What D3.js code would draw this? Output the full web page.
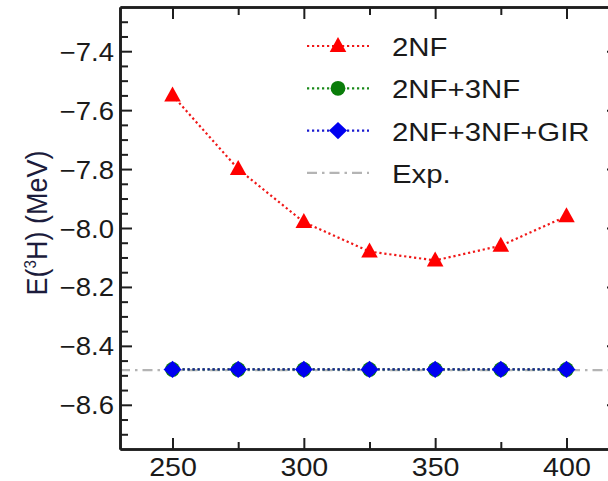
<!DOCTYPE html>
<html>
<head>
<meta charset="utf-8">
<script src="https://cdn.jsdelivr.net/npm/d3@7"></script>
<style>
  html, body { margin: 0; padding: 0; background: #fff; }
  svg { display: block; font-family: "Liberation Sans", Arial, sans-serif; }
</style>
</head>
<body>
<svg id="chart" width="608" height="481"></svg>
<script>
// cutoff values (MeV) and triton binding energies
const cutoffs = [250, 275, 300, 325, 350, 375, 400];
const e2NF = [-7.55, -7.80, -7.98, -8.08, -8.11, -8.06, -7.96];
const e2NF3NF = [-8.48, -8.48, -8.48, -8.48, -8.48, -8.48, -8.48];
const e2NF3NFGIR = [-8.48, -8.48, -8.48, -8.48, -8.48, -8.48, -8.48];
const eExp = -8.482;

const xTicks = [250, 300, 350, 400];
const xMinorTicks = [275, 325, 375];
const yTicks = [-8.6, -8.4, -8.2, -8.0, -7.8, -7.6, -7.4];
const yMinorTicks = [-8.70, -8.65, -8.55, -8.50, -8.45, -8.35, -8.30, -8.25, -8.15, -8.10, -8.05,
                     -7.95, -7.90, -7.85, -7.75, -7.70, -7.65, -7.55, -7.50, -7.45, -7.35, -7.30];

const legendLabels = ["2NF", "2NF+3NF", "2NF+3NF+GIR", "Exp."];

const svg = d3.select("#chart");
const W = 608;
const L = 120, R = 619, T = 7, B = 449;

const x = d3.scaleLinear().domain([230, 420]).range([L, R]);
const y = d3.scaleLinear().domain([-8.75, -7.25]).range([B, T]);

const axisColor = "#1e1e1e";
const textStretch = "scale(1.1,1)";

// experimental value: gray dash-dot line across the frame
svg.append("line")
  .attr("x1", L).attr("x2", W + 20)
  .attr("y1", y(eExp)).attr("y2", y(eExp))
  .attr("stroke", "#b4b4b4").attr("stroke-width", 2.2)
  .attr("stroke-dasharray", "10,5,2.5,5");

const lineGen = d3.line().x((d, i) => x(cutoffs[i])).y(d => y(d));

// series styles
const series = [
  { vals: e2NF, color: "#ff0000", lineColor: "#f01818", marker: "triangle" },
  { vals: e2NF3NF, color: "#0a7d0a", lineColor: "#1a8a1a", marker: "circle" },
  { vals: e2NF3NFGIR, color: "#0000f0", lineColor: "#1a1aa0", marker: "diamond" }
];

function drawMarker(g, type, cx, cy, color) {
  if (type === "triangle") {
    g.append("path")
      .attr("d", `M${cx},${cy - 9} L${cx + 8.3},${cy + 6} L${cx - 8.3},${cy + 6} Z`)
      .attr("fill", color);
  } else if (type === "circle") {
    g.append("circle").attr("cx", cx).attr("cy", cy).attr("r", 7.4).attr("fill", color);
  } else {
    g.append("path")
      .attr("d", `M${cx},${cy - 8.6} L${cx + 9},${cy} L${cx},${cy + 8.6} L${cx - 9},${cy} Z`)
      .attr("fill", color);
  }
}

series.forEach(s => {
  svg.append("path")
    .attr("d", lineGen(s.vals))
    .attr("fill", "none")
    .attr("stroke", s.lineColor)
    .attr("stroke-width", 2.2)
    .attr("stroke-dasharray", "2.2,2.8");
  const g = svg.append("g");
  s.vals.forEach((v, i) => drawMarker(g, s.marker, x(cutoffs[i]), y(v), s.color));
});

// frame and ticks (inward on all four sides)
function styleAxis(g) {
  g.selectAll(".domain").attr("stroke", axisColor).attr("stroke-width", 2.6);
  g.selectAll(".tick line").attr("stroke", axisColor).attr("stroke-width", 2);
}

const gLeft = svg.append("g").attr("transform", `translate(${L},0)`)
  .call(d3.axisLeft(y).tickValues(yTicks).tickSize(-12).tickSizeOuter(0).tickPadding(7).tickFormat(d3.format(".1f")));
styleAxis(gLeft);
gLeft.selectAll(".tick text")
  .attr("font-size", 25).attr("fill", "#1a1a1a")
  .attr("font-family", "Liberation Sans, Arial, sans-serif")
  .attr("x", 0).attr("dy", "0.36em")
  .attr("transform", `translate(-6,0) ${textStretch}`);
svg.append("g").attr("transform", `translate(${L},0)`)
  .call(d3.axisLeft(y).tickValues(yMinorTicks).tickSize(-8).tickSizeOuter(0).tickFormat(""))
  .call(styleAxis);

const gRight = svg.append("g").attr("transform", `translate(${R},0)`)
  .call(d3.axisRight(y).tickValues(yTicks).tickSize(-12).tickSizeOuter(0).tickFormat(""));
styleAxis(gRight);
svg.append("g").attr("transform", `translate(${R},0)`)
  .call(d3.axisRight(y).tickValues(yMinorTicks).tickSize(-8).tickSizeOuter(0).tickFormat(""))
  .call(styleAxis);

const gBottom = svg.append("g").attr("transform", `translate(0,${B})`)
  .call(d3.axisBottom(x).tickValues(xTicks).tickSize(-11).tickSizeOuter(0).tickPadding(7).tickFormat(d3.format("d")));
styleAxis(gBottom);
gBottom.selectAll(".tick text")
  .attr("font-size", 26).attr("fill", "#1a1a1a")
  .attr("font-family", "Liberation Sans, Arial, sans-serif")
  .attr("y", 0).attr("dy", 0)
  .attr("transform", `translate(0,27) ${textStretch}`);
svg.append("g").attr("transform", `translate(0,${B})`)
  .call(d3.axisBottom(x).tickValues(xMinorTicks).tickSize(-7).tickSizeOuter(0).tickFormat(""))
  .call(styleAxis);

const gTop = svg.append("g").attr("transform", `translate(0,${T})`)
  .call(d3.axisTop(x).tickValues(xTicks).tickSize(-12).tickSizeOuter(0).tickFormat(""));
styleAxis(gTop);
svg.append("g").attr("transform", `translate(0,${T})`)
  .call(d3.axisTop(x).tickValues(xMinorTicks).tickSize(-8).tickSizeOuter(0).tickFormat(""))
  .call(styleAxis);

// y-axis title
const yTitle = svg.append("g").attr("transform", `translate(47,223) scale(1.08,1) rotate(-90)`)
  .append("text")
  .attr("text-anchor", "middle")
  .attr("font-size", 27)
  .attr("fill", "#1c1c3c");
yTitle.append("tspan").text("E(");
yTitle.append("tspan").attr("font-size", 15).attr("dy", -10).text("3");
yTitle.append("tspan").attr("dy", 10).text("H) (MeV)");

// legend
const legendStyles = [
  { color: "#ff0000", lineColor: "#f01818", marker: "triangle", dash: "2.2,2.8" },
  { color: "#0a7d0a", lineColor: "#1a8a1a", marker: "circle", dash: "2.2,2.8" },
  { color: "#0000f0", lineColor: "#1a1ad0", marker: "diamond", dash: "2.2,2.8" },
  { color: null, lineColor: "#b4b4b4", marker: null, dash: "10,5,2.5,5" }
];
const legend = svg.append("g");
legendLabels.forEach((label, i) => {
  const st = legendStyles[i];
  const cy = 46 + i * 42.3;
  legend.append("line")
    .attr("x1", 307).attr("x2", 369).attr("y1", cy).attr("y2", cy)
    .attr("stroke", st.lineColor).attr("stroke-width", 2.2)
    .attr("stroke-dasharray", st.dash);
  if (st.marker) drawMarker(legend, st.marker, 338, cy, st.color);
  legend.append("text")
    .attr("transform", `translate(392,${cy + 10}) scale(1.13,1)`)
    .attr("font-size", 26)
    .attr("fill", "#1a1a1a")
    .text(label);
});
</script>
</body>
</html>
